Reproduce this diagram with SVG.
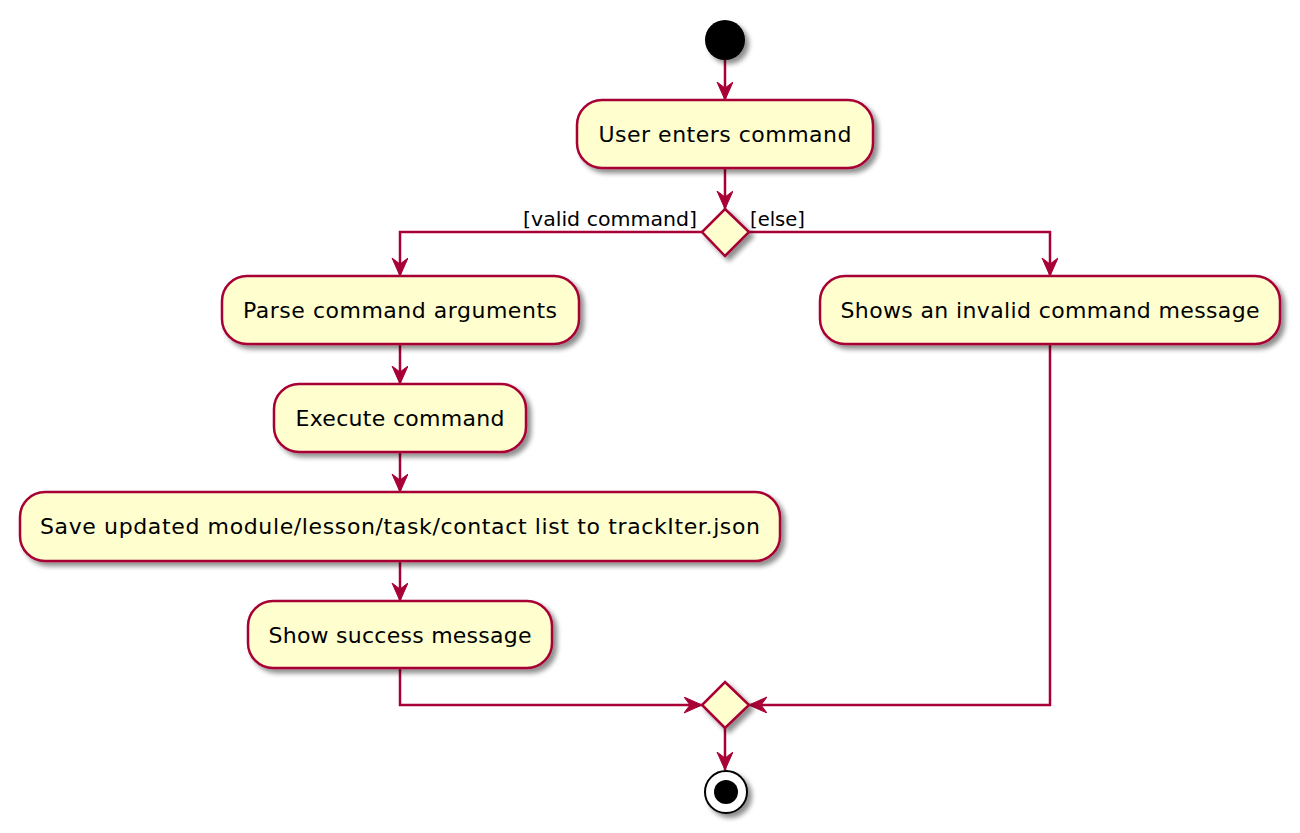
<svg xmlns="http://www.w3.org/2000/svg" width="1300" height="833" viewBox="0 0 1300 833">
<defs>
<filter id="sh" x="-20%" y="-20%" width="150%" height="160%">
<feGaussianBlur in="SourceAlpha" stdDeviation="2.5"/>
<feOffset dx="4" dy="4" result="b"/>
<feComponentTransfer><feFuncA type="linear" slope="0.45"/></feComponentTransfer>
<feMerge><feMergeNode/><feMergeNode in="SourceGraphic"/></feMerge>
</filter>
<marker id="ah" markerUnits="userSpaceOnUse" markerWidth="30" markerHeight="30" refX="18" refY="8" orient="auto" viewBox="0 0 30 30">
<path d="M0,0 L18,8 L0,16 L6,8 Z" fill="#A80036" stroke="#A80036" stroke-width="1"/>
</marker>
<style>
.n{fill:#FEFECE;stroke:#A80036;stroke-width:2.5}
.t{font-family:"DejaVu Sans","Liberation Sans",sans-serif;font-size:22px;fill:#000;text-anchor:middle}
.l{font-family:"DejaVu Sans","Liberation Sans",sans-serif;font-size:20px;fill:#000}
.c{fill:none;stroke:#A80036;stroke-width:2.5}
</style>
</defs>
<g id="connectors">
<path class="c" d="M725,60 L725,100" marker-end="url(#ah)"/>
<path class="c" d="M725,168 L725,209" marker-end="url(#ah)"/>
<path class="c" d="M702,232 L400,232 L400,276" marker-end="url(#ah)"/>
<path class="c" d="M749,232 L1050,232 L1050,276" marker-end="url(#ah)"/>
<path class="c" d="M400,344 L400,384" marker-end="url(#ah)"/>
<path class="c" d="M400,452 L400,492" marker-end="url(#ah)"/>
<path class="c" d="M400,561 L400,601" marker-end="url(#ah)"/>
<path class="c" d="M400,668 L400,705 L702,705" marker-end="url(#ah)"/>
<path class="c" d="M1050,344 L1050,705 L749,705" marker-end="url(#ah)"/>
<path class="c" d="M725,728 L725,770" marker-end="url(#ah)"/>
<text class="l" x="523" y="226" textLength="174" lengthAdjust="spacingAndGlyphs">[valid command]</text>
<text class="l" x="750" y="226" textLength="55" lengthAdjust="spacingAndGlyphs">[else]</text>
</g>
<g id="start" filter="url(#sh)"><circle cx="725" cy="40" r="20" fill="#000"/></g>
<g id="userEnters" filter="url(#sh)"><rect class="n" x="577" y="100" width="296" height="68" rx="25"/></g>
<text class="t" x="725" y="142" textLength="253" lengthAdjust="spacing">User enters command</text>
<g id="decision" filter="url(#sh)"><polygon class="n" points="725,209 749,232 725,256 702,232"/></g>
<g id="parse" filter="url(#sh)"><rect class="n" x="222" y="276" width="357" height="68" rx="25"/></g>
<text class="t" x="400" y="318" textLength="314" lengthAdjust="spacing">Parse command arguments</text>
<g id="invalid" filter="url(#sh)"><rect class="n" x="820" y="276" width="460" height="68" rx="25"/></g>
<text class="t" x="1050" y="318" textLength="419" lengthAdjust="spacing">Shows an invalid command message</text>
<g id="execute" filter="url(#sh)"><rect class="n" x="274" y="384" width="252" height="68" rx="25"/></g>
<text class="t" x="400" y="426" textLength="209" lengthAdjust="spacing">Execute command</text>
<g id="save" filter="url(#sh)"><rect class="n" x="20" y="492" width="760" height="69" rx="25"/></g>
<text class="t" x="400" y="534" textLength="720" lengthAdjust="spacing">Save updated module/lesson/task/contact list to trackIter.json</text>
<g id="success" filter="url(#sh)"><rect class="n" x="248" y="601" width="304" height="67" rx="25"/></g>
<text class="t" x="400" y="643" textLength="263" lengthAdjust="spacing">Show success message</text>
<g id="merge" filter="url(#sh)"><polygon class="n" points="725,682 749,705 725,728 702,705"/></g>
<g id="end" filter="url(#sh)"><circle cx="726" cy="792" r="21" fill="#fff" stroke="#000" stroke-width="2"/><circle cx="726" cy="792" r="12" fill="#000"/></g>
</svg>
